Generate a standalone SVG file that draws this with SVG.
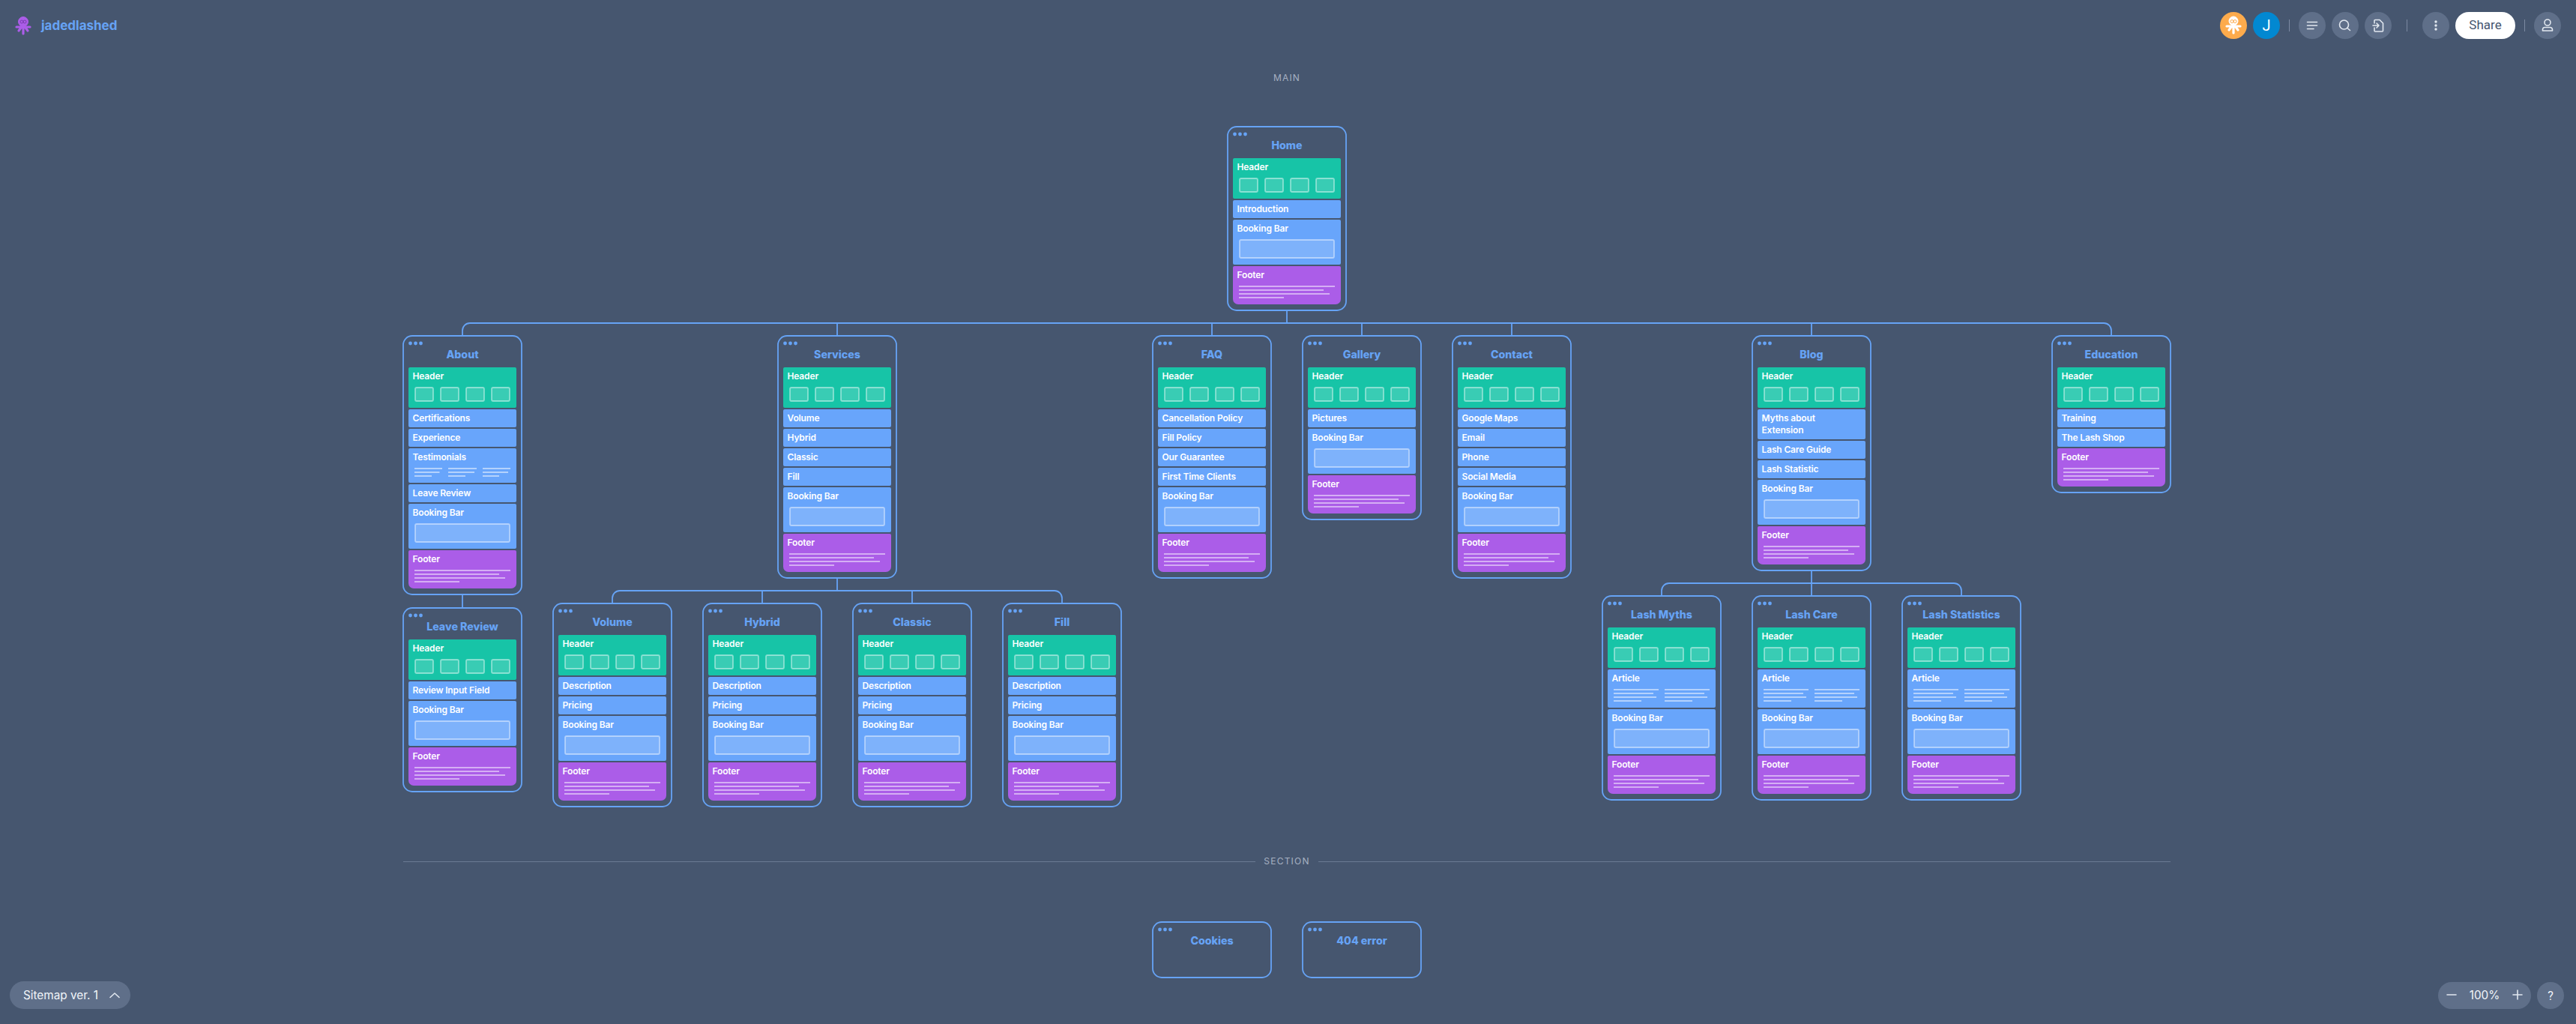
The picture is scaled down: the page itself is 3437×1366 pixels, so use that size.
<svg xmlns="http://www.w3.org/2000/svg" width="3437" height="1366" viewBox="0 0 3437 1366">
<style>
text{font-family:Inter,"Liberation Sans",sans-serif}
.frame{fill:none;stroke:#66a3f5;stroke-width:1.8}
.t{fill:#fff;font-size:12px;font-weight:600;letter-spacing:-.15px;transform:translate(-.5px,-.5px)}
.h{fill:#66a3f5;font-size:14.200px;font-weight:800;text-anchor:middle}
.b{fill:#68a5fb}
.s{fill:#5f6f89}
.d{fill:#66a3f5}
.con{fill:none;stroke:#66a3f5;stroke-width:1.8}
.ln{fill:#fff;opacity:.5}
.box{fill:#fff;fill-opacity:.15;stroke:#fff;stroke-opacity:.45;stroke-width:1.8}
.ic{fill:none;stroke:#e2e8f0;stroke-width:1.6;stroke-linecap:round;stroke-linejoin:round}
.sep{stroke:#7c8aa2;stroke-width:1}
.lab{fill:#a6b1c2;font-size:12px;letter-spacing:1.200px;text-anchor:middle}
.ui{font-family:Roboto,"Liberation Sans",sans-serif;fill:#f1f5f9;font-size:16px}
</style>
<defs>
<g id="dots"><circle class="d" cx="9.5" cy="10" r="2.4"/><circle class="d" cx="16.5" cy="10" r="2.4"/><circle class="d" cx="23.5" cy="10" r="2.4"/></g>
<g id="hdr"><rect x="7" y="0" width="144" height="54" rx="2" fill="#17c4a7"/><rect class="box" x="16" y="27" width="24" height="18" rx="2"/><rect class="box" x="50" y="27" width="24" height="18" rx="2"/><rect class="box" x="84" y="27" width="24" height="18" rx="2"/><rect class="box" x="118" y="27" width="24" height="18" rx="2"/></g>
<rect id="i24" class="b" x="7" y="0" width="144" height="24" rx="2"/>
<g id="book"><rect class="b" x="7" y="0" width="144" height="60" rx="2"/><rect class="box" x="16" y="27" width="126" height="24" rx="2"/></g>
<g id="foot"><path d="M9 0H149a2 2 0 0 1 2 2V44a7 7 0 0 1-7 7H14a7 7 0 0 1-7-7V2a2 2 0 0 1 2-2z" fill="#ab5de8"/><rect class="ln" x="15" y="26" width="128" height="2"/><rect class="ln" x="15" y="31" width="113" height="2"/><rect class="ln" x="15" y="36" width="121" height="2"/><rect class="ln" x="15" y="41" width="60" height="2"/></g>
<g id="art"><rect class="b" x="7" y="0" width="144" height="51" rx="2"/><rect class="ln" x="15" y="26" width="60" height="2"/><rect class="ln" x="15" y="31" width="53" height="2"/><rect class="ln" x="15" y="36" width="57" height="2"/><rect class="ln" x="15" y="41" width="37" height="2"/><rect class="ln" x="83" y="26" width="60" height="2"/><rect class="ln" x="83" y="31" width="53" height="2"/><rect class="ln" x="83" y="36" width="57" height="2"/><rect class="ln" x="83" y="41" width="37" height="2"/></g>
</defs>
<rect width="3437" height="1366" fill="#46566f"/>

<g id="connectors" class="con">
<path d="M1717 414V431M627 431H2807M617 448V441a10 10 0 0 1 10-10M2807 431a10 10 0 0 1 10 10V448M1117 431V448M1617 431V448M1817 431V448M2017 431V448M2417 431V448"/>
<path d="M617 793V811"/>
<path d="M1117 771V788M827 788H1407M817 805V798a10 10 0 0 1 10-10M1407 788a10 10 0 0 1 10 10V805M1017 788V805M1217 788V805"/>
<path d="M2417 761V795M2227 778H2607M2217 795V788a10 10 0 0 1 10-10M2607 778a10 10 0 0 1 10 10V795"/>
</g>

<g id="topbar-left">
<g fill="#ab5de8" stroke="#ab5de8"><circle cx="31" cy="29" r="6.5"/><path d="M22 36H40M25 41L28 37M37 41L34 37M31 45V37" stroke-width="3.2" stroke-linecap="round"/></g>
<circle cx="29" cy="29" r="2" fill="none" stroke="#7a3db0" stroke-width="1"/><circle cx="33" cy="29" r="2" fill="none" stroke="#7a3db0" stroke-width="1"/>
<text x="55" y="40" fill="#66a3f5" font-size="17" font-weight="700">jadedlashed</text>
</g>
<g id="topbar-right">
<circle cx="2980" cy="34" r="18" fill="#fdab4c"/>
<g fill="#fff" stroke="#fff"><circle cx="2980" cy="28" r="6"/><path d="M2971 35H2989M2974 40L2977 36M2986 40L2983 36M2980 44V36" stroke-width="3.2" stroke-linecap="round"/></g>
<circle cx="2978" cy="28.500" r="2" fill="none" stroke="#fdab4c" stroke-width="1"/><circle cx="2982" cy="28.500" r="2" fill="none" stroke="#fdab4c" stroke-width="1"/>
<circle cx="3024" cy="34" r="18" fill="#0288d1"/>
<text x="3024" y="41" class="ui" style="fill:#fff;font-size:20px" text-anchor="middle">J</text>
<line class="sep" x1="3054.500" y1="26" x2="3054.500" y2="42"/>
<circle class="s" cx="3085" cy="34" r="18"/><path class="ic" d="M3078.500 29.500H3091.500M3078.500 34H3091.500M3078.500 38.500H3087"/>
<circle class="s" cx="3129" cy="34" r="18"/><circle class="ic" cx="3127.500" cy="33" r="6"/><path class="ic" d="M3132 37.500L3135.500 40.500"/>
<circle class="s" cx="3173" cy="34" r="18"/><path class="ic" d="M3168 31V27.500a1 1 0 0 1 1-1H3175L3179.500 31V41a1 1 0 0 1-1 1H3169a1 1 0 0 1-1-1V37M3166 34H3174M3171 31L3174 34L3171 37"/>
<line class="sep" x1="3211.500" y1="26" x2="3211.500" y2="42"/>
<circle class="s" cx="3250" cy="34" r="18"/><circle cx="3250" cy="29" r="1.700" fill="#e2e8f0"/><circle cx="3250" cy="34" r="1.700" fill="#e2e8f0"/><circle cx="3250" cy="39" r="1.700" fill="#e2e8f0"/>
<rect x="3276" y="16" width="80" height="36" rx="18" fill="#fff"/>
<text x="3316" y="39" text-anchor="middle" style="font-family:Roboto,'Liberation Sans',sans-serif;font-size:17px" fill="#46566f">Share</text>
<line class="sep" x1="3368.500" y1="26" x2="3368.500" y2="42"/>
<circle class="s" cx="3399" cy="34" r="18"/><circle class="ic" cx="3399" cy="30" r="4"/><path class="ic" d="M3392.500 41V39.500a3 3 0 0 1 3-3H3402.500a3 3 0 0 1 3 3V41z"/>
</g>

<text id="label-main" class="lab" x="1717" y="107.500">MAIN</text>

<g id="node-home" transform="translate(1638,169)">
<rect class="frame" width="158" height="245" rx="12"/><use href="#dots"/><text class="h" x="79" y="30">Home</text>
<use href="#hdr" y="42"/><text class="t" x="13" y="58.500">Header</text>
<use href="#i24" y="98"/><text class="t" x="13" y="114.500">Introduction</text>
<use href="#book" y="124"/><text class="t" x="13" y="140.500">Booking Bar</text>
<use href="#foot" y="186"/><text class="t" x="13" y="202.500">Footer</text>
</g>

<g id="node-about" transform="translate(538,448)">
<rect class="frame" width="158" height="345" rx="12"/><use href="#dots"/><text class="h" x="79" y="30">About</text>
<use href="#hdr" y="42"/><text class="t" x="13" y="58.500">Header</text>
<use href="#i24" y="98"/><text class="t" x="13" y="114.500">Certifications</text>
<use href="#i24" y="124"/><text class="t" x="13" y="140.500">Experience</text>
<rect class="b" x="7" y="150" width="144" height="46" rx="2"/><text class="t" x="13" y="166.500">Testimonials</text>
<rect class="ln" x="15" y="176" width="37" height="2"/><rect class="ln" x="15" y="181" width="33.500" height="2"/><rect class="ln" x="15" y="186" width="23" height="2"/>
<rect class="ln" x="60" y="176" width="38" height="2"/><rect class="ln" x="60" y="181" width="35" height="2"/><rect class="ln" x="60" y="186" width="23" height="2"/>
<rect class="ln" x="106" y="176" width="37" height="2"/><rect class="ln" x="106" y="181" width="34" height="2"/><rect class="ln" x="106" y="186" width="22" height="2"/>
<use href="#i24" y="198"/><text class="t" x="13" y="214.500">Leave Review</text>
<use href="#book" y="224"/><text class="t" x="13" y="240.500">Booking Bar</text>
<use href="#foot" y="286"/><text class="t" x="13" y="302.500">Footer</text>
</g>

<g id="node-leave-review" transform="translate(538,811)">
<rect class="frame" width="158" height="245" rx="12"/><use href="#dots"/><text class="h" x="79" y="30">Leave Review</text>
<use href="#hdr" y="42"/><text class="t" x="13" y="58.500">Header</text>
<use href="#i24" y="98"/><text class="t" x="13" y="114.500">Review Input Field</text>
<use href="#book" y="124"/><text class="t" x="13" y="140.500">Booking Bar</text>
<use href="#foot" y="186"/><text class="t" x="13" y="202.500">Footer</text>
</g>

<g id="node-services" transform="translate(1038,448)">
<rect class="frame" width="158" height="323" rx="12"/><use href="#dots"/><text class="h" x="79" y="30">Services</text>
<use href="#hdr" y="42"/><text class="t" x="13" y="58.500">Header</text>
<use href="#i24" y="98"/><text class="t" x="13" y="114.500">Volume</text>
<use href="#i24" y="124"/><text class="t" x="13" y="140.500">Hybrid</text>
<use href="#i24" y="150"/><text class="t" x="13" y="166.500">Classic</text>
<use href="#i24" y="176"/><text class="t" x="13" y="192.500">Fill</text>
<use href="#book" y="202"/><text class="t" x="13" y="218.500">Booking Bar</text>
<use href="#foot" y="264"/><text class="t" x="13" y="280.500">Footer</text>
</g>

<g id="node-faq" transform="translate(1538,448)">
<rect class="frame" width="158" height="323" rx="12"/><use href="#dots"/><text class="h" x="79" y="30">FAQ</text>
<use href="#hdr" y="42"/><text class="t" x="13" y="58.500">Header</text>
<use href="#i24" y="98"/><text class="t" x="13" y="114.500">Cancellation Policy</text>
<use href="#i24" y="124"/><text class="t" x="13" y="140.500">Fill Policy</text>
<use href="#i24" y="150"/><text class="t" x="13" y="166.500">Our Guarantee</text>
<use href="#i24" y="176"/><text class="t" x="13" y="192.500">First Time Clients</text>
<use href="#book" y="202"/><text class="t" x="13" y="218.500">Booking Bar</text>
<use href="#foot" y="264"/><text class="t" x="13" y="280.500">Footer</text>
</g>

<g id="node-gallery" transform="translate(1738,448)">
<rect class="frame" width="158" height="245" rx="12"/><use href="#dots"/><text class="h" x="79" y="30">Gallery</text>
<use href="#hdr" y="42"/><text class="t" x="13" y="58.500">Header</text>
<use href="#i24" y="98"/><text class="t" x="13" y="114.500">Pictures</text>
<use href="#book" y="124"/><text class="t" x="13" y="140.500">Booking Bar</text>
<use href="#foot" y="186"/><text class="t" x="13" y="202.500">Footer</text>
</g>

<g id="node-contact" transform="translate(1938,448)">
<rect class="frame" width="158" height="323" rx="12"/><use href="#dots"/><text class="h" x="79" y="30">Contact</text>
<use href="#hdr" y="42"/><text class="t" x="13" y="58.500">Header</text>
<use href="#i24" y="98"/><text class="t" x="13" y="114.500">Google Maps</text>
<use href="#i24" y="124"/><text class="t" x="13" y="140.500">Email</text>
<use href="#i24" y="150"/><text class="t" x="13" y="166.500">Phone</text>
<use href="#i24" y="176"/><text class="t" x="13" y="192.500">Social Media</text>
<use href="#book" y="202"/><text class="t" x="13" y="218.500">Booking Bar</text>
<use href="#foot" y="264"/><text class="t" x="13" y="280.500">Footer</text>
</g>

<g id="node-blog" transform="translate(2338,448)">
<rect class="frame" width="158" height="313" rx="12"/><use href="#dots"/><text class="h" x="79" y="30">Blog</text>
<use href="#hdr" y="42"/><text class="t" x="13" y="58.500">Header</text>
<rect class="b" x="7" y="98" width="144" height="40" rx="2"/><text class="t" x="13" y="114.500">Myths about</text><text class="t" x="13" y="130.500">Extension</text>
<use href="#i24" y="140"/><text class="t" x="13" y="156.500">Lash Care Guide</text>
<use href="#i24" y="166"/><text class="t" x="13" y="182.500">Lash Statistic</text>
<use href="#book" y="192"/><text class="t" x="13" y="208.500">Booking Bar</text>
<use href="#foot" y="254"/><text class="t" x="13" y="270.500">Footer</text>
</g>

<g id="node-education" transform="translate(2738,448)">
<rect class="frame" width="158" height="209" rx="12"/><use href="#dots"/><text class="h" x="79" y="30">Education</text>
<use href="#hdr" y="42"/><text class="t" x="13" y="58.500">Header</text>
<use href="#i24" y="98"/><text class="t" x="13" y="114.500">Training</text>
<use href="#i24" y="124"/><text class="t" x="13" y="140.500">The Lash Shop</text>
<use href="#foot" y="150"/><text class="t" x="13" y="166.500">Footer</text>
</g>

<g id="node-volume" transform="translate(738,805)">
<rect class="frame" width="158" height="271" rx="12"/><use href="#dots"/><text class="h" x="79" y="30">Volume</text>
<use href="#hdr" y="42"/><text class="t" x="13" y="58.500">Header</text>
<use href="#i24" y="98"/><text class="t" x="13" y="114.500">Description</text>
<use href="#i24" y="124"/><text class="t" x="13" y="140.500">Pricing</text>
<use href="#book" y="150"/><text class="t" x="13" y="166.500">Booking Bar</text>
<use href="#foot" y="212"/><text class="t" x="13" y="228.500">Footer</text>
</g>
<g id="node-hybrid" transform="translate(938,805)">
<rect class="frame" width="158" height="271" rx="12"/><use href="#dots"/><text class="h" x="79" y="30">Hybrid</text>
<use href="#hdr" y="42"/><text class="t" x="13" y="58.500">Header</text>
<use href="#i24" y="98"/><text class="t" x="13" y="114.500">Description</text>
<use href="#i24" y="124"/><text class="t" x="13" y="140.500">Pricing</text>
<use href="#book" y="150"/><text class="t" x="13" y="166.500">Booking Bar</text>
<use href="#foot" y="212"/><text class="t" x="13" y="228.500">Footer</text>
</g>
<g id="node-classic" transform="translate(1138,805)">
<rect class="frame" width="158" height="271" rx="12"/><use href="#dots"/><text class="h" x="79" y="30">Classic</text>
<use href="#hdr" y="42"/><text class="t" x="13" y="58.500">Header</text>
<use href="#i24" y="98"/><text class="t" x="13" y="114.500">Description</text>
<use href="#i24" y="124"/><text class="t" x="13" y="140.500">Pricing</text>
<use href="#book" y="150"/><text class="t" x="13" y="166.500">Booking Bar</text>
<use href="#foot" y="212"/><text class="t" x="13" y="228.500">Footer</text>
</g>
<g id="node-fill" transform="translate(1338,805)">
<rect class="frame" width="158" height="271" rx="12"/><use href="#dots"/><text class="h" x="79" y="30">Fill</text>
<use href="#hdr" y="42"/><text class="t" x="13" y="58.500">Header</text>
<use href="#i24" y="98"/><text class="t" x="13" y="114.500">Description</text>
<use href="#i24" y="124"/><text class="t" x="13" y="140.500">Pricing</text>
<use href="#book" y="150"/><text class="t" x="13" y="166.500">Booking Bar</text>
<use href="#foot" y="212"/><text class="t" x="13" y="228.500">Footer</text>
</g>

<g id="node-lash-myths" transform="translate(2138,795)">
<rect class="frame" width="158" height="272" rx="12"/><use href="#dots"/><text class="h" x="79" y="30">Lash Myths</text>
<use href="#hdr" y="42"/><text class="t" x="13" y="58.500">Header</text>
<use href="#art" y="98"/><text class="t" x="13" y="114.500">Article</text>
<use href="#book" y="151"/><text class="t" x="13" y="167.500">Booking Bar</text>
<use href="#foot" y="213"/><text class="t" x="13" y="229.500">Footer</text>
</g>
<g id="node-lash-care" transform="translate(2338,795)">
<rect class="frame" width="158" height="272" rx="12"/><use href="#dots"/><text class="h" x="79" y="30">Lash Care</text>
<use href="#hdr" y="42"/><text class="t" x="13" y="58.500">Header</text>
<use href="#art" y="98"/><text class="t" x="13" y="114.500">Article</text>
<use href="#book" y="151"/><text class="t" x="13" y="167.500">Booking Bar</text>
<use href="#foot" y="213"/><text class="t" x="13" y="229.500">Footer</text>
</g>
<g id="node-lash-statistics" transform="translate(2538,795)">
<rect class="frame" width="158" height="272" rx="12"/><use href="#dots"/><text class="h" x="79" y="30">Lash Statistics</text>
<use href="#hdr" y="42"/><text class="t" x="13" y="58.500">Header</text>
<use href="#art" y="98"/><text class="t" x="13" y="114.500">Article</text>
<use href="#book" y="151"/><text class="t" x="13" y="167.500">Booking Bar</text>
<use href="#foot" y="213"/><text class="t" x="13" y="229.500">Footer</text>
</g>

<g id="section-divider">
<path d="M538 1149.500H1675M1759 1149.500H2896" stroke="#6a7a93" stroke-width="1" fill="none"/>
<text class="lab" x="1717" y="1153">SECTION</text>
</g>

<g id="node-cookies" transform="translate(1538,1230)">
<rect class="frame" width="158" height="74" rx="12"/><use href="#dots"/><text class="h" x="79" y="30">Cookies</text>
</g>
<g id="node-404" transform="translate(1738,1230)">
<rect class="frame" width="158" height="74" rx="12"/><use href="#dots"/><text class="h" x="79" y="30">404 error</text>
</g>

<g id="bottom-left">
<rect class="s" x="13" y="1309" width="161" height="37" rx="18.500"/>
<text class="ui" x="31" y="1333" style="font-family:Inter,'Liberation Sans',sans-serif;font-size:15.300px">Sitemap ver. 1</text>
<path class="ic" d="M147 1330.500L153 1325L159 1330.500" stroke-width="2"/>
</g>
<g id="bottom-right">
<rect class="s" x="3253" y="1310" width="124" height="36" rx="18"/>
<path class="ic" d="M3265 1327H3277M3353 1327H3365M3359 1321V1333"/>
<text class="ui" x="3315" y="1333" text-anchor="middle" style="font-family:Inter,'Liberation Sans',sans-serif;font-size:15.300px">100%</text>
<circle class="s" cx="3403" cy="1328" r="18"/>
<text class="ui" x="3403" y="1334" text-anchor="middle">?</text>
</g>
</svg>
